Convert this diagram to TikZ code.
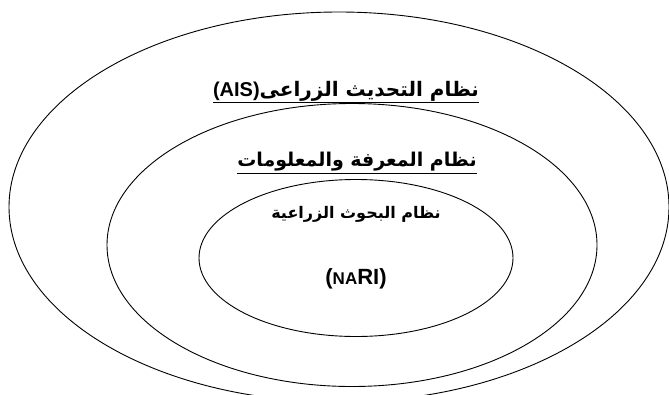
\documentclass[tikz,border=0pt]{standalone}
\usepackage{fontspec}
\setmainfont{Liberation Sans}
\newfontfamily\arabicfont[Script=Arabic]{DejaVu Sans}
\newfontfamily\latinfont{Liberation Sans}
\TeXXeTstate=1
\usetikzlibrary{shapes.geometric}

\begin{document}
\begin{tikzpicture}[
    x=1pt, y=-1pt, % one unit per pixel of the page
    ring/.style = {ellipse, draw, line width=0.9pt, inner sep=0pt},
    lab/.style  = {draw=none, align=center, inner sep=0pt},
    bigtxt/.style   = {lab, font=\fontsize{20}{24}\selectfont\bfseries},
    smalltxt/.style = {lab, font=\fontsize{16}{19}\selectfont\bfseries}
  ]
  \useasboundingbox (0,0) rectangle (669,394);

  % ===== Rings, outer to inner =====
  \node[ring, minimum width=660pt, minimum height=390pt] (ais)  at (339,207) {};
  \node[ring, minimum width=490pt, minimum height=283pt] (know) at (352,245) {};
  \node[ring, minimum width=314pt, minimum height=157pt] (nari) at (356,258) {};

  % ===== Labels =====
  \node[bigtxt] (aisT) at (346,92)
    {\underline{\arabicfont\beginR نظام التحديث الزراعى\beginL{\latinfont(AIS)}\endL\endR}};
  \node[bigtxt, font=\fontsize{19}{23}\selectfont\bfseries] (knowT) at (357,163)
    {\underline{\arabicfont\beginR نظام المعرفة والمعلومات\endR}};
  \node[smalltxt] (nariT) at (356,214)
    {\arabicfont\beginR نظام البحوث الزراعية\endR};
  \node[bigtxt, font=\fontsize{22}{26}\selectfont\bfseries] (nariAb) at (356,279)
    {({\fontsize{17}{20}\selectfont NA}RI)};
\end{tikzpicture}
\end{document}
